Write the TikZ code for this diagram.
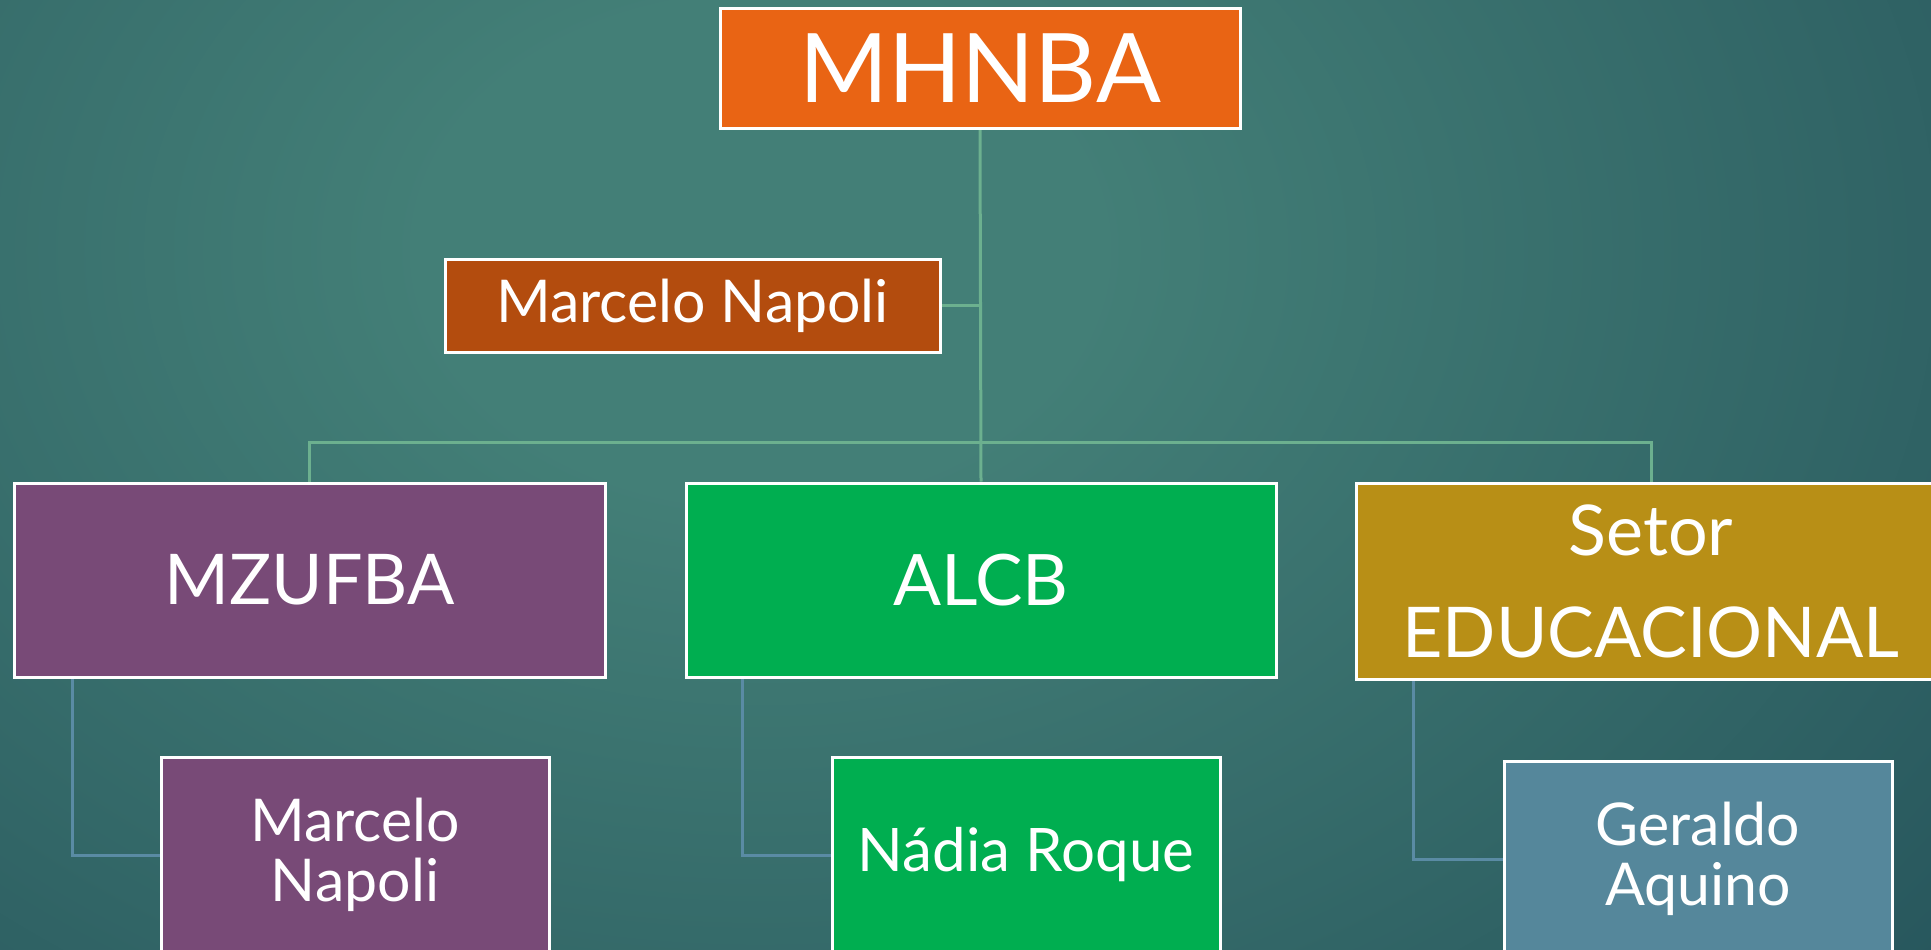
\documentclass[tikz,border=0pt]{standalone}
\usepackage{fontspec}
\setmainfont{Lato}
\definecolor{bgin}{HTML}{437F77}
\definecolor{bgout}{HTML}{1C4652}
\definecolor{corange}{HTML}{E96414}
\definecolor{crust}{HTML}{B34C0E}
\definecolor{cpurple}{HTML}{784A77}
\definecolor{cgreen}{HTML}{00AE50}
\definecolor{cgold}{HTML}{B88F16}
\definecolor{cblue}{HTML}{55879B}
\definecolor{linetop}{HTML}{6CB08F}
\definecolor{linesub}{HTML}{5A8BA4}
\pgfdeclareradialshading{bgshade}{\pgfpoint{0bp}{0bp}}{color(0bp)=(bgin); color(4bp)=(bgin); color(24bp)=(bgout); color(50bp)=(bgout)}
\pgfdeclarelayer{bg}
\pgfdeclarelayer{links}
\pgfsetlayers{bg,links,main}
\tikzset{
  box/.style={draw=white, line width=3pt, text=white, align=center, inner sep=0pt},
  toplink/.style={draw=linetop, line width=3pt},
  sublink/.style={draw=linesub, line width=3pt},
}
\begin{document}
\begin{tikzpicture}[x=1pt,y=-1pt]
\useasboundingbox (0,0) rectangle (1931,950);
\begin{pgfonlayer}{bg}
\begin{scope}
\clip (0,0) rectangle (1931,950);
\fill[bgout] (0,0) rectangle (1931,950);
\shade[shading=bgshade] (760,250) ellipse (2100 and 1550);
\end{scope}
\end{pgfonlayer}
% nodes
\begin{scope}
\clip (0,0) rectangle (1931,950);
\node[box, fill=corange, minimum width=520pt, minimum height=119pt, font=\fontsize{96}{110}\selectfont] (mhnba) at (980,68.5) {MHNBA};
\node[box, fill=crust, minimum width=495pt, minimum height=93pt, font=\fontsize{59}{66}\selectfont] (asst) at (692.5,305.5) {Marcelo Napoli};
\node[box, fill=cpurple, minimum width=591pt, minimum height=194pt, font=\fontsize{70}{80}\selectfont] (mz) at (309.5,580) {MZUFBA};
\node[box, fill=cgreen, minimum width=590pt, minimum height=194pt, font=\fontsize{71}{80}\selectfont] (alcb) at (981,580) {ALCB};
\node[box, fill=cgold, minimum width=590pt, minimum height=196pt, font=\fontsize{70}{102}\selectfont] (setor) at (1651,581) {Setor\\EDUCACIONAL};
\node[box, fill=cpurple, minimum width=388pt, minimum height=196pt, font=\fontsize{59}{60}\selectfont] (mn) at (355,855) {Marcelo\\Napoli};
\node[box, fill=cgreen, minimum width=388pt, minimum height=196pt, font=\fontsize{60}{60}\selectfont] (nr) at (1026,855) {Nádia Roque};
\node[box, fill=cblue, minimum width=388pt, minimum height=196pt, font=\fontsize{59}{60}\selectfont] (ga) at (1698,859) {Geraldo\\Aquino};
\end{scope}
% connectors
\begin{pgfonlayer}{links}
\coordinate (bar) at (980,442);
\draw[toplink] (mhnba.south) -- (alcb.north);
\draw[toplink] (asst.east) -- (asst.east -| mhnba.south);
\draw[toplink] (mz.north) |- (bar) -| (setor.north);
\draw[sublink] ([xshift=60pt]mz.south west) |- (mn.west);
\draw[sublink] ([xshift=58pt]alcb.south west) |- (nr.west);
\draw[sublink] ([xshift=59pt]setor.south west) |- (ga.west);
\end{pgfonlayer}
\end{tikzpicture}
\end{document}
